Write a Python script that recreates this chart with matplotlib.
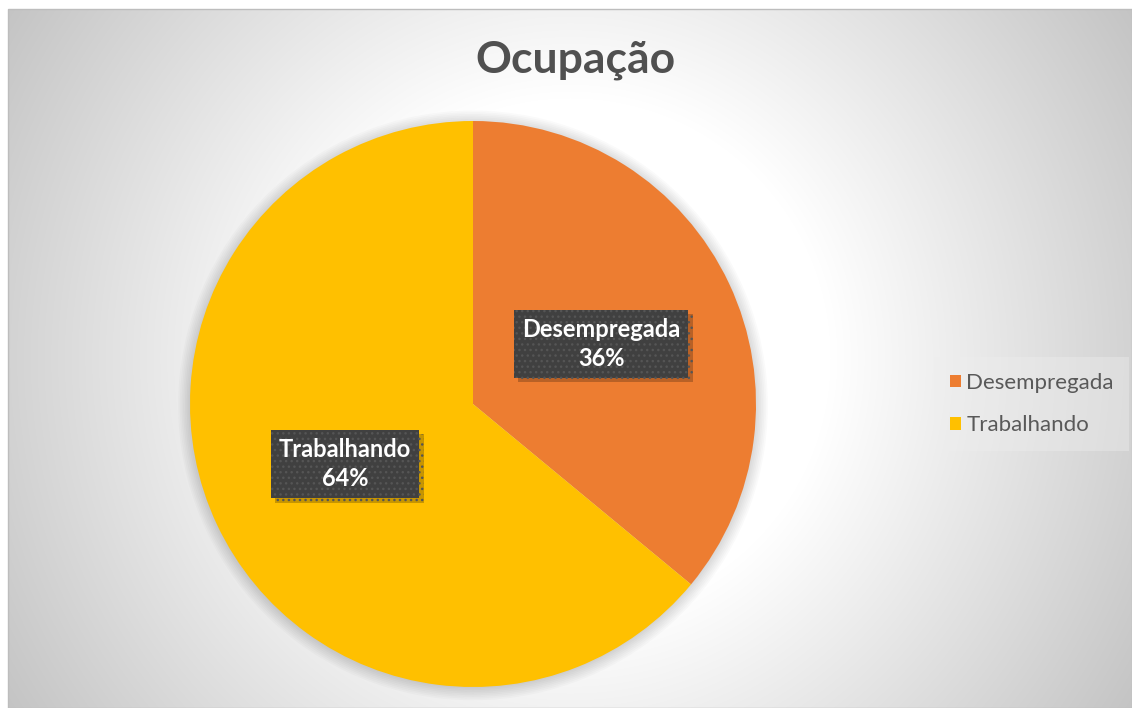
import numpy as np
import matplotlib.pyplot as plt
import matplotlib.patheffects as pe
from matplotlib.patches import Rectangle, Circle

# dados do grafico
categorias = ["Desempregada", "Trabalhando"]
percentuais = [36, 64]
cores = ["#ED7D31", "#FFC000"]
titulo = "Ocupação"

W, H = 1132, 708
plt.rcParams['font.family'] = ['Lato', 'DejaVu Sans']
fig = plt.figure(figsize=(W / 100, H / 100), dpi=100)

# fundo com gradiente radial (branco no centro, cinza nas bordas)
bg = fig.add_axes([0, 0, 1, 1])
yy, xx = np.mgrid[0:H, 0:W]
d = np.hypot(xx - 570, yy - 358)
t = np.clip((d - 260) / 400, 0, 1)
v = 1 - t * (1 - 0.77)
img = np.dstack([v, v, v])
img[:9, :] = 1
img[:, :8] = 1
bg.imshow(img, extent=(0, W, H, 0), aspect='auto', interpolation='bilinear')
bg.add_patch(Rectangle((8, 9), W - 8, H - 9, fill=False, ec='#bdbdbd', lw=1))
bg.set_xlim(0, W)
bg.set_ylim(H, 0)
bg.axis('off')

# pizza
ax = fig.add_axes([190 / W, 21 / H, 566 / W, 566 / H])
for i in range(8):
    ax.add_patch(Circle((0.0, -0.005), 1 + 0.006 * i, color='k', alpha=0.018,
                        zorder=0, clip_on=False, lw=0))
wedges, _ = ax.pie(percentuais, colors=cores, startangle=90, counterclock=False,
                   radius=1, wedgeprops=dict(lw=0, zorder=2))
ax.set_xlim(-1, 1)
ax.set_ylim(-1, 1)
ax.set_aspect('equal')
ax.axis('off')

for w, cat, pct in zip(wedges, categorias, percentuais):
    ang = np.deg2rad((w.theta1 + w.theta2) / 2)
    x, y = 0.5 * np.cos(ang), 0.5 * np.sin(ang)
    txt = ax.text(x, y, f"{cat}\n{pct}%", ha='center', va='center', fontsize=17,
                  fontweight='bold', color='white', linespacing=1.3, zorder=4,
                  bbox=dict(boxstyle='square,pad=0.35', fc='#404040', ec='#555555',
                            hatch='...', lw=0))
    txt.get_bbox_patch().set_path_effects(
        [pe.SimplePatchShadow(offset=(3, -3), shadow_rgbFace='black', alpha=0.22),
         pe.Normal()])

fig.text(575 / W, 1 - 60 / H, titulo, ha='center', va='center', fontsize=32,
         fontweight='bold', color='#505050')

leg = fig.legend(wedges, categorias, loc='center left',
                 bbox_to_anchor=(923 / W, 1 - 404 / H), fontsize=16,
                 labelcolor='#595959', handlelength=0.5, handleheight=0.5,
                 handletextpad=0.25, labelspacing=1.0, frameon=True,
                 facecolor='#eeeeee', edgecolor='none', framealpha=0.4,
                 fancybox=False, borderpad=0.7)

fig.savefig('out.png', dpi=100)
